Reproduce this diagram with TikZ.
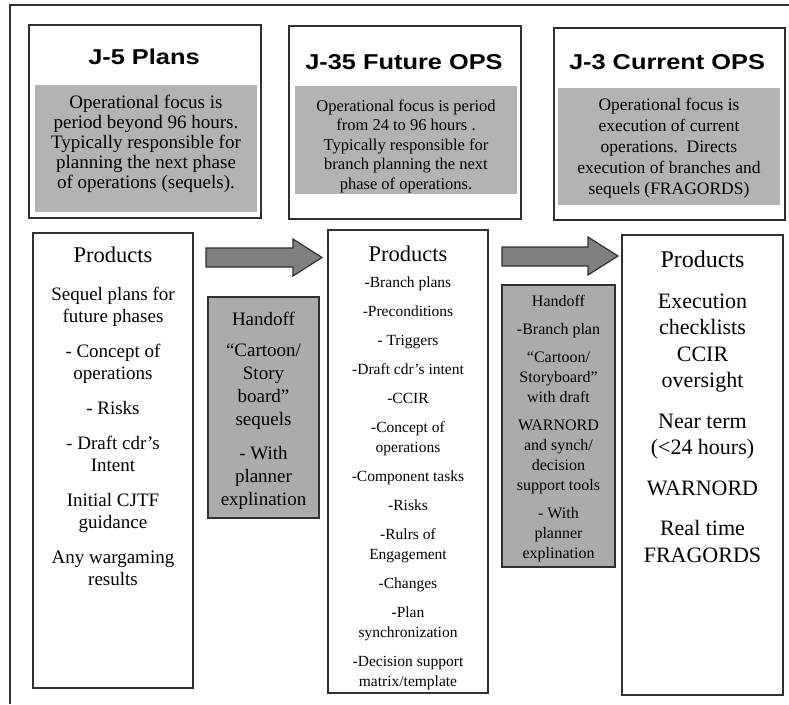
\documentclass[tikz,border=0pt]{standalone}
\usepackage{fontspec}
\setmainfont{Liberation Serif}
\newfontfamily\titlefont{Liberation Sans}[FakeStretch=1.18]
\definecolor{linegray}{HTML}{303030}
\definecolor{panelgray}{HTML}{B3B3B3}
\definecolor{handgray}{HTML}{ABABAB}
\definecolor{arrowgray}{HTML}{808080}
\tikzset{
  framebox/.style={draw=linegray, line width=1.4pt, fill=white, inner sep=0pt},
  graypanel/.style={fill=panelgray, draw=none, inner sep=0pt},
  handbox/.style={draw=linegray, line width=1.4pt, fill=handgray, inner sep=0pt},
  titletext/.style={font=\titlefont\bfseries\fontsize{21.5}{24}\selectfont, inner sep=0pt},
  bodytext/.style={align=center, inner sep=0pt},
  blockarrow/.style={draw=linegray, line width=1.2pt, fill=arrowgray, line join=miter},
  outerline/.style={draw=linegray, line width=1.5pt}
}
\begin{document}
\begin{tikzpicture}[x=1pt,y=-1pt]
\useasboundingbox (0,0) rectangle (789,704);
\fill[white] (0,0) rectangle (789,704);
% outer frame (top and left edges only visible)
\coordinate (ftr) at (789,5);
\coordinate (ftl) at (10,5);
\coordinate (fbl) at (10,704);
\draw[outerline] (ftr) -- (ftl) -- (fbl);

% ---- top header boxes ----
\node[framebox, minimum width=232pt, minimum height=193pt] (j5) at (145,121.5) {};
\node[framebox, minimum width=232pt, minimum height=193pt] (j35) at (405,122.5) {};
\node[framebox, minimum width=231pt, minimum height=192pt] (j3) at (669.5,124) {};

\node[graypanel, minimum width=222pt, minimum height=127pt] (g5) at (146,148.5) {};
\node[graypanel, minimum width=222pt, minimum height=108pt] (g35) at (406,140) {};
\node[graypanel, minimum width=222pt, minimum height=117pt] (g3) at (669,146.5) {};

\node[titletext] (t5) at (144,57) {J-5 Plans};
\node[titletext] (t35) at (404,62) {J-35 Future OPS};
\node[titletext] (t3) at (667,62) {J-3 Current OPS};

\node[bodytext, font=\fontsize{19}{20}\selectfont] (d5) at (146,144)
  {Operational focus is\\ period beyond 96 hours.\\ Typically responsible for\\ planning the next phase\\ of operations (sequels).};
\node[bodytext, font=\fontsize{16.5}{19.5}\selectfont] (d35) at (406,146)
  {Operational focus is period\\ from 24 to 96 hours .\\ Typically responsible for\\ branch planning the next\\ phase of operations.};
\node[bodytext, font=\fontsize{17.5}{21}\selectfont] (d3) at (669,148)
  {Operational focus is\\ execution of current\\ operations.\ \ Directs\\ execution of branches and\\ sequels (FRAGORDS)};

% ---- products boxes ----
\node[framebox, minimum width=160pt, minimum height=455pt] (p1) at (113,460.5) {};
\node[framebox, minimum width=160pt, minimum height=463pt] (p2) at (408,461.5) {};
\node[framebox, minimum width=161pt, minimum height=460pt] (p3) at (702.5,465) {};

\node[handbox, minimum width=111pt, minimum height=221pt] (h1) at (263.5,407.5) {};
\node[handbox, minimum width=113pt, minimum height=282pt] (h2) at (558.5,426) {};

% ---- block arrows ----
\draw[blockarrow] (206,248) -- (293,248) -- (293,239) -- (322,257.5) -- (293,276) -- (293,267) -- (206,267) -- cycle;
\draw[blockarrow] (502,247) -- (588,247) -- (588,237) -- (618,256) -- (588,275) -- (588,266) -- (502,266) -- cycle;

% ---- products texts ----
\node[bodytext, font=\fontsize{22.5}{24}\selectfont] (p1h) at (113,255) {Products};
\node[bodytext, font=\fontsize{19}{22}\selectfont] (p1t) at (113,436)
  {Sequel plans for\\ future phases\\[13pt]
   - Concept of\\ operations\\[13pt]
   - Risks\\[13pt]
   - Draft cdr’s\\ Intent\\[13pt]
   Initial CJTF\\ guidance\\[13pt]
   Any wargaming\\ results};

\node[bodytext, font=\fontsize{19}{23}\selectfont] (h1t) at (263.5,411)
  {Handoff\\[8pt]
   “Cartoon/\\ Story\\ board”\\ sequels\\[11pt]
   - With\\ planner\\ explination};

\node[bodytext, font=\fontsize{22.5}{24}\selectfont] (p2h) at (408,254) {Products};
\node[bodytext, font=\fontsize{15.5}{20}\selectfont] (p2t) at (408,483)
  {-Branch plans\\[9pt]
   -Preconditions\\[9pt]
   - Triggers\\[9pt]
   -Draft cdr’s intent\\[9pt]
   -CCIR\\[9pt]
   -Concept of\\ operations\\[9pt]
   -Component tasks\\[9pt]
   -Risks\\[9pt]
   -Rulrs of\\ Engagement\\[9pt]
   -Changes\\[9pt]
   -Plan\\ synchronization\\[9pt]
   -Decision support\\ matrix/template};

\node[bodytext, font=\fontsize{16}{20}\selectfont] (h2t) at (558.5,429)
  {Handoff\\[8pt]
   -Branch plan\\[8pt]
   “Cartoon/\\ Storyboard”\\ with draft\\[8pt]
   WARNORD\\ and synch/\\ decision\\ support tools\\[8pt]
   - With\\ planner\\ explination};

\node[bodytext, font=\fontsize{24}{26}\selectfont] (p3h) at (702.5,259) {Products};
\node[bodytext, font=\fontsize{22}{26.5}\selectfont] (p3t) at (702.5,428)
  {Execution\\ checklists\\ CCIR\\ oversight\\[14pt]
   Near term\\ (<24 hours)\\[14pt]
   WARNORD\\[14pt]
   Real time\\ FRAGORDS};
\end{tikzpicture}
\end{document}
